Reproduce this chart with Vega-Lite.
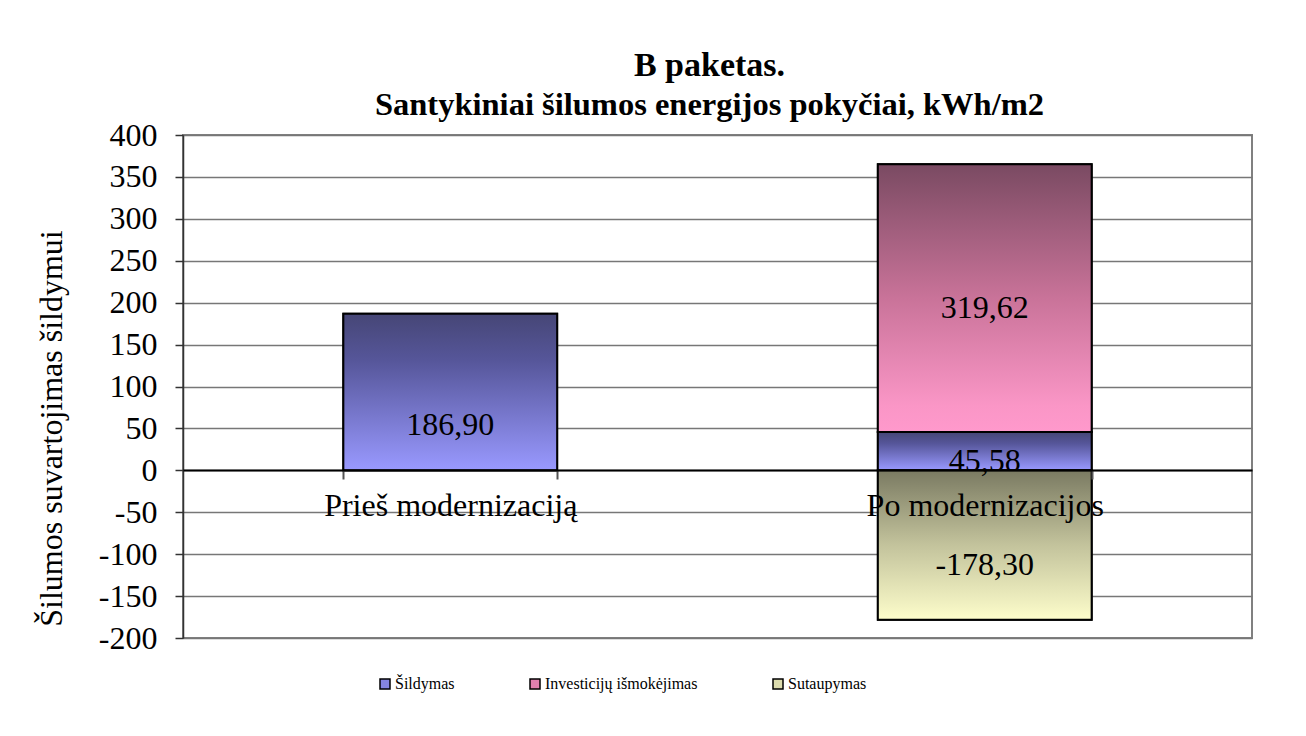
{
  "$schema": "https://vega.github.io/schema/vega-lite/v6.json",
  "width": 1069,
  "height": 503,
  "autosize": "none",
  "padding": {"left": 183, "top": 135, "right": 54, "bottom": 98},
  "background": "white",
  "config": {
    "locale": {"number": {"decimal": ",", "thousands": " ", "grouping": [3], "currency": ["", ""], "minus": "-"}},
    "font": "Liberation Serif",
    "view": {"stroke": "#808080", "strokeWidth": 2}
  },
  "title": {
    "text": "B paketas.",
    "subtitle": "Santykiniai šilumos energijos pokyčiai, kWh/m2",
    "font": "Liberation Serif",
    "fontSize": 34,
    "fontWeight": "bold",
    "subtitleFont": "Liberation Serif",
    "subtitleFontSize": 32.5,
    "subtitleFontWeight": "bold",
    "subtitleColor": "black",
    "color": "black",
    "anchor": "middle",
    "offset": -2,
    "subtitlePadding": 6,
    "dx": -8
  },
  "data": {
    "values": [
      {"category": "Prieš modernizaciją", "series": "Šildymas", "value": 186.90},
      {"category": "Po modernizacijos", "series": "Šildymas", "value": 45.58},
      {"category": "Po modernizacijos", "series": "Investicijų išmokėjimas", "value": 319.62},
      {"category": "Po modernizacijos", "series": "Sutaupymas", "value": -178.30}
    ]
  },
  "transform": [
    {"stack": "value", "groupby": ["category"], "sort": [{"field": "series", "order": "descending"}], "as": ["y0", "y1"]}
  ],
  "encoding": {
    "x": {
      "field": "category",
      "type": "nominal",
      "sort": ["Prieš modernizaciją", "Po modernizacijos"],
      "scale": {"paddingInner": 0.6, "paddingOuter": 0.3},
      "axis": {
        "title": null,
        "offset": -168,
        "labelAngle": 0,
        "labelFont": "Liberation Serif",
        "labelFontSize": 32,
        "labelColor": "black",
        "labelPadding": 11,
        "labelLimit": 0,
        "domainColor": "black",
        "domainWidth": 2,
        "tickColor": "#555",
        "tickWidth": 2,
        "tickSize": 9,
        "tickBand": "extent",
        "zindex": 1
      }
    }
  },
  "layer": [
    {
      "mark": {"type": "bar", "stroke": "black", "strokeWidth": 2},
      "encoding": {
        "y": {
          "field": "y0",
          "type": "quantitative",
          "scale": {"domain": [-200, 400], "nice": false, "zero": false},
          "axis": {
            "values": [-200, -150, -100, -50, 0, 50, 100, 150, 200, 250, 300, 350, 400],
            "format": "d",
            "title": "Šilumos suvartojimas šildymui",
            "titleFont": "Liberation Serif",
            "titleFontSize": 32,
            "titleFontWeight": "normal",
            "titleColor": "black",
            "titleAngle": 270,
            "titleAlign": "center",
            "titleBaseline": "middle",
            "titleX": -132,
            "titleY": 293,
            "labelFont": "Liberation Serif",
            "labelFontSize": 32,
            "labelColor": "black",
            "labelPadding": 18,
            "tickSize": 8,
            "tickColor": "#333",
            "tickWidth": 1.5,
            "domainColor": "#333",
            "domainWidth": 1.5,
            "grid": true,
            "gridColor": "#777",
            "gridWidth": 1.3
          }
        },
        "y2": {"field": "y1"},
        "color": {
          "field": "series",
          "type": "nominal",
          "scale": {
            "domain": ["Šildymas", "Investicijų išmokėjimas", "Sutaupymas"],
            "range": ["#8585e0", "#e07fae", "#dcdcae"]
          },
          "legend": {
            "title": null,
            "orient": "none",
            "legendX": 194,
            "legendY": 541,
            "direction": "horizontal",
            "symbolType": "square",
            "symbolSize": 100,
            "symbolStrokeColor": "black",
            "symbolStrokeWidth": 1.5,
            "labelFont": "Liberation Serif",
            "labelFontSize": 16,
            "labelColor": "black",
            "labelLimit": 0,
            "labelOffset": 2,
            "columnPadding": 72
          }
        }
      }
    },
    {
      "mark": {"type": "bar", "stroke": "black", "strokeWidth": 2},
      "encoding": {
        "y": {"field": "y0", "type": "quantitative"},
        "y2": {"field": "y1"},
        "fill": {
          "condition": [
            {"test": "datum.series === 'Šildymas'", "value": {"gradient": "linear", "x1": 0, "y1": 0, "x2": 0, "y2": 1, "stops": [{"offset": 0, "color": "#464676"}, {"offset": 0.3, "color": "#56569a"}, {"offset": 1, "color": "#9999ff"}]}},
            {"test": "datum.series === 'Investicijų išmokėjimas'", "value": {"gradient": "linear", "x1": 0, "y1": 0, "x2": 0, "y2": 1, "stops": [{"offset": 0, "color": "#7a4a62"}, {"offset": 0.5, "color": "#c97399"}, {"offset": 0.9, "color": "#fa96c6"}, {"offset": 1, "color": "#ff99cc"}]}}
          ],
          "value": {"gradient": "linear", "x1": 0, "y1": 0, "x2": 0, "y2": 1, "stops": [{"offset": 0, "color": "#7a7a62"}, {"offset": 0.5, "color": "#c3c39c"}, {"offset": 1, "color": "#fdfdcb"}]}
        }
      }
    },
    {
      "transform": [
        {"filter": "datum.category === 'Prieš modernizaciją'"},
        {"calculate": "(datum.y0 + datum.y1) / 2", "as": "mid"}
      ],
      "mark": {"type": "text", "font": "Liberation Serif", "fontSize": 32, "color": "black", "dy": 33},
      "encoding": {
        "y": {"field": "mid", "type": "quantitative"},
        "text": {"field": "value", "type": "quantitative", "format": ".2f"}
      }
    },
    {
      "transform": [
        {"filter": "datum.category === 'Po modernizacijos' && datum.value > 0"},
        {"calculate": "(datum.y0 + datum.y1) / 2", "as": "mid"}
      ],
      "mark": {"type": "text", "font": "Liberation Serif", "fontSize": 32, "color": "black", "dy": 10},
      "encoding": {
        "y": {"field": "mid", "type": "quantitative"},
        "text": {"field": "value", "type": "quantitative", "format": ".2f"}
      }
    },
    {
      "transform": [
        {"filter": "datum.value < 0"},
        {"calculate": "(datum.y0 + datum.y1) / 2", "as": "mid"}
      ],
      "mark": {"type": "text", "font": "Liberation Serif", "fontSize": 32, "color": "black", "dy": 20},
      "encoding": {
        "y": {"field": "mid", "type": "quantitative"},
        "text": {"field": "value", "type": "quantitative", "format": ".2f"}
      }
    }
  ]
}
